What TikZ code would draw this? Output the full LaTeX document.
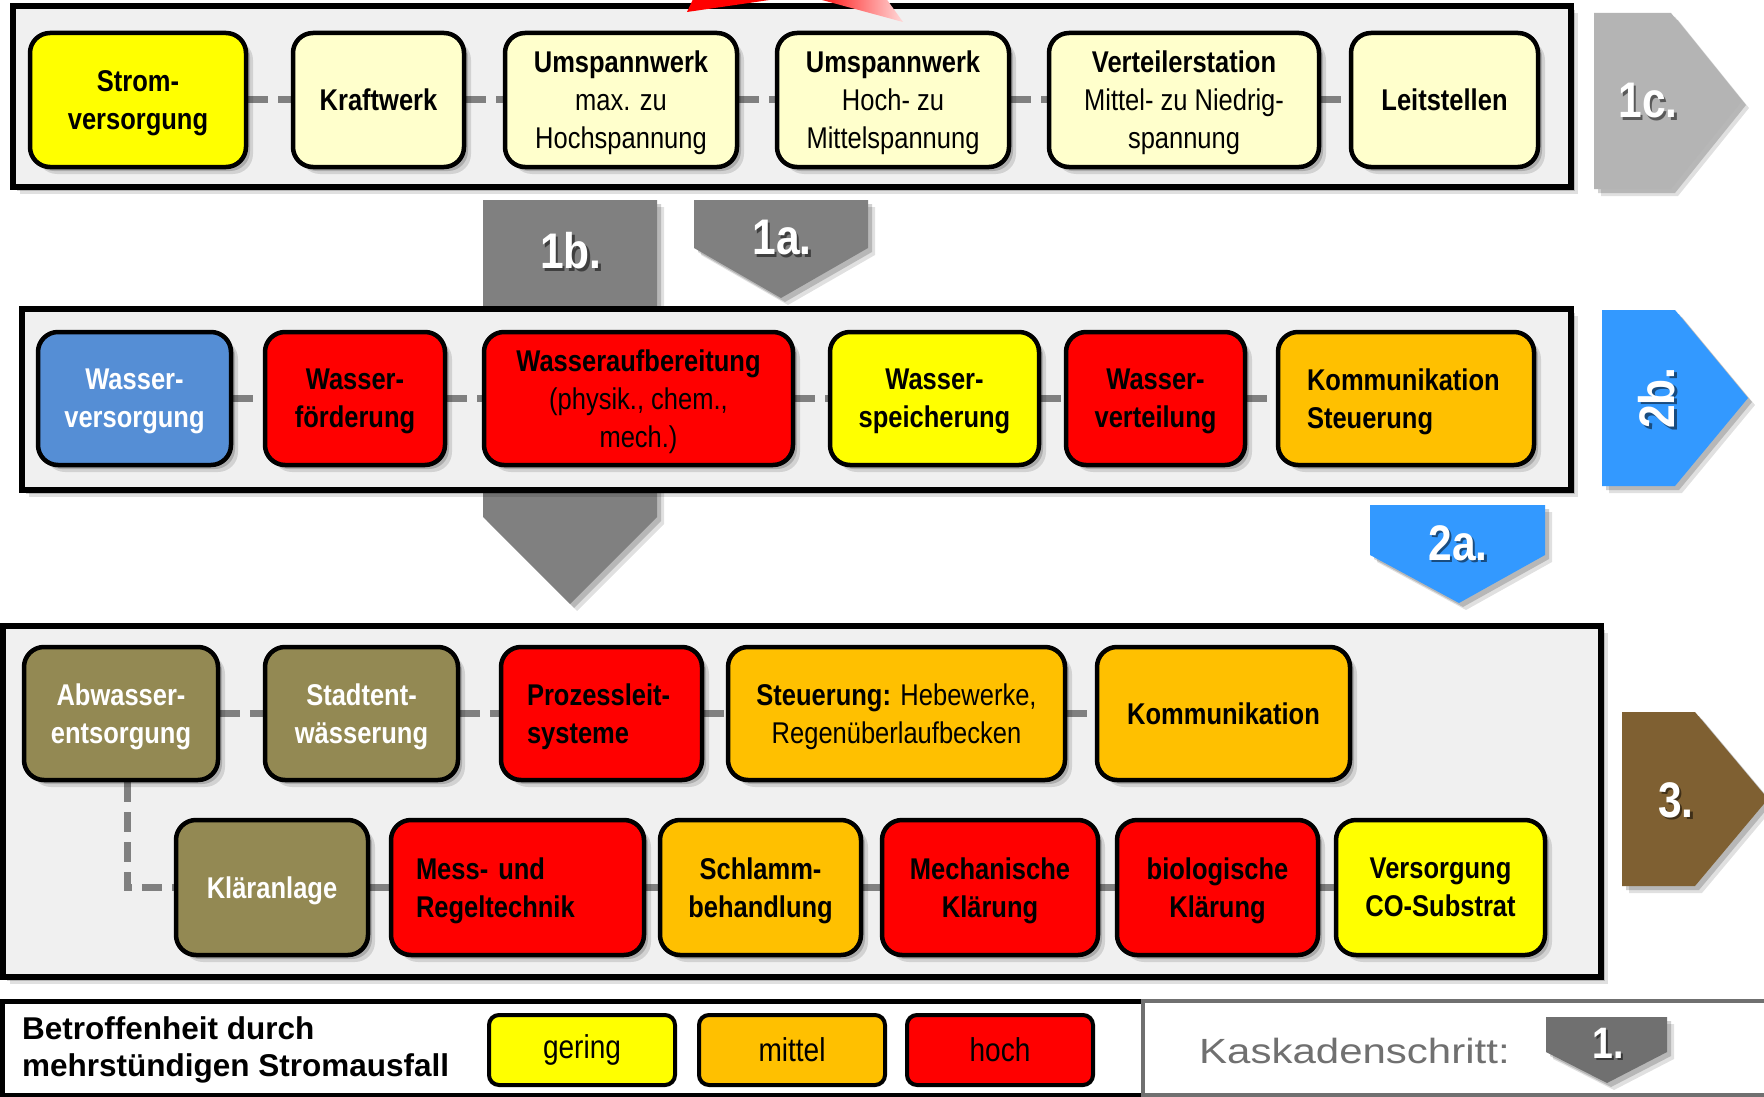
\documentclass[tikz,border=0pt]{standalone}
\usepackage{fontspec}
\setmainfont{Liberation Sans}[FakeStretch=0.85]
\newfontfamily\legfont{Liberation Sans}
\newfontfamily\widefont{Liberation Sans}[FakeStretch=1.2]
\definecolor{ltyel}{HTML}{FFFFCC}
\definecolor{yel}{HTML}{FFFF00}
\definecolor{org}{HTML}{FFC000}
\definecolor{rd}{HTML}{FF0000}
\definecolor{wblue}{HTML}{558ED5}
\definecolor{olivebox}{HTML}{938953}
\definecolor{panelgray}{HTML}{F0F0F0}
\definecolor{conngray}{HTML}{808080}
\definecolor{arrgray}{HTML}{808080}
\definecolor{arrlight}{HTML}{B4B4B4}
\definecolor{arrblue}{HTML}{3399FF}
\definecolor{arrbrown}{HTML}{7F6032}
\definecolor{leggray}{HTML}{707070}
\pgfdeclarelayer{back}
\pgfdeclarelayer{mid}
\pgfsetlayers{back,mid,main}
\tikzset{
  shd/.style={preaction={fill=black, fill opacity=0.12, transform canvas={shift={(7pt,-7pt)}}},
              preaction={fill=black, fill opacity=0.18, transform canvas={shift={(4pt,-4pt)}}}},
  boxbase/.style={draw=black, line width=4.5pt, rounded corners=20pt, inner sep=0pt,
    minimum height=134pt, font=\fontsize{30}{38}\selectfont\bfseries, shd},
  box/.style={boxbase, align=center, text depth=0pt},
  lbox/.style={boxbase, align=left, text height=29pt},
  pnl/.style={draw=black, line width=6pt, fill=panelgray, shd},
  conn/.style={draw=conngray, line width=7pt, dash pattern=on 20pt off 10pt},
  numtxt/.style={text=white, font=\fontsize{50}{50}\selectfont\bfseries, inner sep=0pt},
  numshd/.style={text=black, text opacity=0.5, font=\fontsize{50}{50}\selectfont\bfseries, inner sep=0pt},
  legbox/.style={draw=black, line width=4pt, rounded corners=10pt, minimum width=186pt,
    minimum height=70pt, font=\fontsize{33}{35}\selectfont, inner sep=0pt},
}
\begin{document}
\begin{tikzpicture}[x=1pt,y=-1pt]
\useasboundingbox (0,0) rectangle (1764,1097);
\begin{pgfonlayer}{back}
  \fill[white] (0,0) rectangle (1764,1097);
  % cascade arrows 1b and 1a
  \fill[arrgray, shd] (483,200) -- (657,200) -- (657,517) -- (570,604) -- (483,517) -- cycle;
  \fill[arrgray, shd] (694,200) -- (868,200) -- (868,248) -- (781,298) -- (694,248) -- cycle;
  % panels
  \draw[pnl] (13,6) rectangle (1571,187);
  \draw[pnl] (22,309) rectangle (1571,490);
  \draw[pnl] (3,626) rectangle (1601,977);
  % side arrows
  \fill[arrlight, shd] (1594,13) -- (1671,13) -- (1742,101) -- (1671,189) -- (1594,189) -- cycle;
  \fill[arrblue, shd] (1602,310) -- (1675,310) -- (1748,398) -- (1675,486) -- (1602,486) -- cycle;
  \fill[arrbrown, shd] (1622,712) -- (1695,712) -- (1768,799) -- (1695,886) -- (1622,886) -- cycle;
  \fill[arrblue, shd] (1370,505) -- (1545,505) -- (1545,555) -- (1459,603) -- (1370,555) -- cycle;
\end{pgfonlayer}

% red arrow remnants at the top edge
\fill[rd] (687,12) -- (694,-3) -- (790,-3) -- cycle;
\shade[left color=rd, right color=rd!15] (811,-3) -- (885,-3) -- (903,22) -- cycle;

% ---- row 1: Stromversorgung
\node[box, fill=yel, minimum width=216pt] (strom) at (138,100) {Strom-\\versorgung};
\node[box, fill=ltyel, minimum width=171pt] (kraft) at (378.5,100) {Kraftwerk};
\node[box, fill=ltyel, minimum width=232pt] (umsp1) at (621,100) {Umspannwerk\\\mdseries max. zu\\\mdseries Hochspannung};
\node[box, fill=ltyel, minimum width=232pt] (umsp2) at (893,100) {Umspannwerk\\\mdseries Hoch- zu\\\mdseries Mittelspannung};
\node[box, fill=ltyel, minimum width=270pt] (vert) at (1184,100) {Verteilerstation\\\mdseries Mittel- zu Niedrig-\\\mdseries spannung};
\node[box, fill=ltyel, minimum width=187pt] (leit) at (1444.5,100) {Leitstellen};

% ---- row 2: Wasserversorgung
\node[box, fill=wblue, text=white, minimum width=193pt, minimum height=133pt] (wv) at (134.5,398.5) {Wasser-\\versorgung};
\node[box, fill=rd, minimum width=180pt, minimum height=133pt] (wf) at (355,398.5) {Wasser-\\förderung};
\node[box, fill=rd, minimum width=309pt, minimum height=133pt] (wa) at (638.5,398.5) {Wasseraufbereitung\\\mdseries (physik., chem.,\\\mdseries mech.)};
\node[box, fill=yel, minimum width=209pt, minimum height=133pt] (ws) at (934.5,398.5) {Wasser-\\speicherung};
\node[box, fill=rd, minimum width=179pt, minimum height=133pt] (wvt) at (1155.5,398.5) {Wasser-\\verteilung};
\node[lbox, fill=org, minimum width=256pt, minimum height=133pt, text width=198pt, inner xsep=29pt] (kst) at (1406,398.5) {Kommunikation\\Steuerung};

% ---- row 3: Abwasserentsorgung
\node[box, fill=olivebox, text=white, minimum width=194pt, minimum height=133pt] (ab) at (121,713.5) {Abwasser-\\entsorgung};
\node[box, fill=olivebox, text=white, minimum width=193pt, minimum height=133pt] (st) at (361.5,713.5) {Stadtent-\\wässerung};
\node[lbox, fill=rd, minimum width=201pt, minimum height=133pt, text width=149pt, inner xsep=26pt] (pl) at (601.5,713.5) {Prozessleit-\\systeme};
\node[box, fill=org, minimum width=337pt, minimum height=133pt] (sh) at (896.5,713.5) {Steuerung: {\mdseries Hebewerke,}\\\mdseries Regenüberlaufbecken};
\node[box, fill=org, minimum width=253pt, minimum height=133pt] (ko) at (1223.5,713.5) {Kommunikation};

\node[box, fill=olivebox, text=white, minimum width=192pt, minimum height=135pt] (kl) at (272,887.5) {Kläranlage};
\node[lbox, fill=rd, minimum width=253pt, minimum height=135pt, text width=203pt, inner xsep=25pt] (mr) at (517.5,887.5) {Mess- und\\Regeltechnik};
\node[box, fill=org, minimum width=201pt, minimum height=135pt] (sb) at (760.5,887.5) {Schlamm-\\behandlung};
\node[box, fill=rd, minimum width=216pt, minimum height=135pt] (mk) at (990,887.5) {Mechanische\\Klärung};
\node[box, fill=rd, minimum width=201pt, minimum height=135pt] (bk) at (1217.5,887.5) {biologische\\Klärung};
\node[box, fill=yel, minimum width=209pt, minimum height=135pt] (vc) at (1440.5,887.5) {Versorgung\\CO-Substrat};

% ---- connectors
\begin{pgfonlayer}{mid}
  \draw[conn] (strom.east) -- (kraft.west);
  \draw[conn] (kraft.east) -- (umsp1.west);
  \draw[conn] (umsp1.east) -- (umsp2.west);
  \draw[conn] (umsp2.east) -- (vert.west);
  \draw[conn] (vert.east) -- (leit.west);
  \draw[conn] (wv.east) -- (wf.west);
  \draw[conn] (wf.east) -- (wa.west);
  \draw[conn] (wa.east) -- (ws.west);
  \draw[conn] (ws.east) -- (wvt.west);
  \draw[conn] (wvt.east) -- (kst.west);
  \draw[conn] (ab.east) -- (st.west);
  \draw[conn] (st.east) -- (pl.west);
  \draw[conn] (pl.east) -- (sh.west);
  \draw[conn] (sh.east) -- (ko.west);
  \draw[conn] ([xshift=6pt]ab.south) |- (kl.west);
  \draw[conn] (kl.east) -- (mr.west);
  \draw[conn] (mr.east) -- (sb.west);
  \draw[conn] (sb.east) -- (mk.west);
  \draw[conn] (mk.east) -- (bk.west);
  \draw[conn] (bk.east) -- (vc.west);
\end{pgfonlayer}

% ---- cascade step labels
\node[numshd] at (1650.5,103.5) {1c.};
\node[numtxt] (l1c) at (1648,101) {1c.};
\node[numshd] at (573.5,253.5) {1b.};
\node[numtxt] (l1b) at (571,251) {1b.};
\node[numshd] at (784.5,240.5) {1a.};
\node[numtxt] (l1a) at (782,238) {1a.};
\node[numshd, rotate=90] at (1659.5,400.5) {2b.};
\node[numtxt, rotate=90] (l2b) at (1657,398) {2b.};
\node[numshd] at (1460.5,545.5) {2a.};
\node[numtxt] (l2a) at (1458,543) {2a.};
\node[numshd] at (1678.5,802.5) {3.};
\node[numtxt] (l3) at (1676,800) {3.};

% ---- legend
\draw[black, line width=5pt, fill=white] (2,1001) rectangle (1143,1095);
\draw[leggray, line width=4pt, fill=white] (1143,1001) rectangle (1780,1095);
\node[anchor=west, align=left, inner sep=0pt, font=\legfont\bfseries\fontsize{31.5}{37}\selectfont] (legt) at (22,1050) {Betroffenheit durch\\mehrstündigen Stromausfall};
\node[legbox, fill=yel] (lg) at (582,1050) {gering};
\node[legbox, fill=org] (lm) at (792,1050) {mittel};
\node[legbox, fill=rd] (lh) at (1000,1050) {hoch};
\node[anchor=base west, inner sep=0pt, text=leggray, font=\widefont\fontsize{35}{37}\selectfont] (kask) at (1199,1063) {Kaskadenschritt:};
\fill[leggray, shd] (1546,1017) -- (1667,1017) -- (1667,1052) -- (1607,1083) -- (1546,1052) -- cycle;
\node[numshd, font=\fontsize{44}{44}\selectfont\bfseries] at (1610,1045) {1.};
\node[numtxt, font=\fontsize{44}{44}\selectfont\bfseries] (l1) at (1608,1043) {1.};
\end{tikzpicture}
\end{document}
